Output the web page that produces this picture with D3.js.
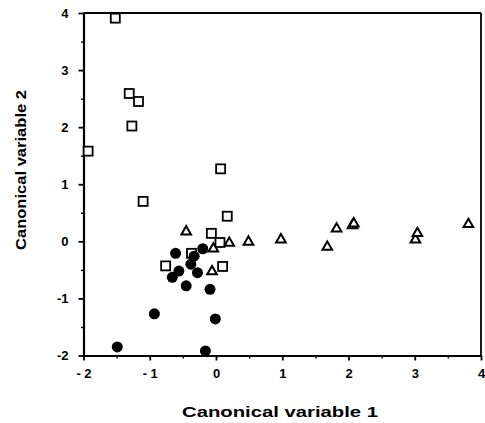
<!DOCTYPE html>
<html>
<head>
<meta charset="utf-8">
<script src="https://cdn.jsdelivr.net/npm/d3@7"></script>
<style>
  html, body { margin: 0; padding: 0; background: #fff; }
  svg { display: block; }
  text { font-family: "Liberation Sans", Arial, Helvetica, sans-serif; font-weight: bold; fill: #000; }
  .tick text { font-size: 13px; font-weight: bold; font-family: "Liberation Sans", Arial, sans-serif; }
</style>
</head>
<body>
<svg id="chart" width="485" height="423"></svg>
<script>
// ---- data ----
const squaresX = [-1.52, -1.31, -1.17, -1.27, -1.93, 0.07, -1.10, 0.17, -0.07, 0.06, -0.76, 0.10, -0.37];
const squaresY = [3.91, 2.59, 2.45, 2.02, 1.58, 1.27, 0.70, 0.44, 0.14, -0.02, -0.43, -0.44, -0.21];

const trianglesX = [-0.45, -0.04, 0.20, -0.06, 0.49, 0.98, 1.68, 1.82, 2.06, 2.08, 3.01, 3.04, 3.81];
const trianglesY = [0.17, -0.13, -0.03, -0.53, -0.01, 0.03, -0.10, 0.22, 0.28, 0.31, 0.03, 0.14, 0.30];

const circlesX = [-0.61, -0.20, -0.33, -0.38, -0.56, -0.66, -0.28, -0.45, -0.09, -0.01, -0.93, -1.49, -0.16];
const circlesY = [-0.21, -0.13, -0.26, -0.40, -0.52, -0.63, -0.55, -0.78, -0.84, -1.36, -1.27, -1.85, -1.92];

const xTickValues = [-2, -1, 0, 1, 2, 3, 4];
const xTickLabels = ["- 2", "- 1", "0", "1", "2", "3", "4"];
const yTickValues = [-2, -1, 0, 1, 2, 3, 4];
const yTickLabels = ["-2", "-1", "0", "1", "2", "3", "4"];
const xMinorTicks = [-1.5, -0.5, 0.5, 1.5, 2.5, 3.5];
const yMinorTicks = [-1.5, -0.5, 0.5, 1.5, 2.5, 3.5];

const xTitle = "Canonical variable 1";
const yTitle = "Canonical variable 2";

// ---- layout ----
const svg = d3.select("#chart");
const plotLeft = 83.5, plotRight = 481, plotTop = 13, plotBottom = 355.5;

const x = d3.scaleLinear().domain([-2, 4]).range([plotLeft, plotRight]);
const y = d3.scaleLinear().domain([-2, 4]).range([plotBottom, plotTop]);

// frame (top and right)
svg.append("line").attr("x1", plotLeft).attr("x2", plotRight).attr("y1", plotTop).attr("y2", plotTop)
  .attr("stroke", "#000").attr("stroke-width", 1.8);
svg.append("line").attr("x1", plotRight).attr("x2", plotRight).attr("y1", plotTop).attr("y2", plotBottom)
  .attr("stroke", "#000").attr("stroke-width", 1.8);

// x axis
const xAxis = svg.append("g").attr("transform", `translate(0,${plotBottom})`)
  .call(d3.axisBottom(x).tickValues(xTickValues).tickSize(5).tickSizeOuter(0)
    .tickFormat((d, i) => xTickLabels[i]));
xAxis.select(".domain").attr("stroke-width", 2.2);
xAxis.selectAll(".tick line").attr("stroke-width", 1.8);
xAxis.selectAll(".tick text").attr("y", 13).attr("dy", "0.75em");

const xMinor = svg.append("g").attr("transform", `translate(0,${plotBottom})`)
  .call(d3.axisBottom(x).tickValues(xMinorTicks).tickSize(3).tickSizeOuter(0).tickFormat(""));
xMinor.select(".domain").remove();
xMinor.selectAll(".tick line").attr("stroke-width", 1.4);

// y axis
const yAxis = svg.append("g").attr("transform", `translate(${plotLeft},0)`)
  .call(d3.axisLeft(y).tickValues(yTickValues).tickSize(5).tickSizeOuter(0)
    .tickFormat((d, i) => yTickLabels[i]));
yAxis.select(".domain").attr("stroke-width", 2.2);
yAxis.selectAll(".tick line").attr("stroke-width", 1.8);
yAxis.selectAll(".tick text").attr("x", -15);

const yMinor = svg.append("g").attr("transform", `translate(${plotLeft},0)`)
  .call(d3.axisLeft(y).tickValues(yMinorTicks).tickSize(2.5).tickSizeOuter(0).tickFormat(""));
yMinor.select(".domain").remove();
yMinor.selectAll(".tick line").attr("stroke-width", 1.4);

// axis titles
svg.append("text").attr("x", 280).attr("y", 417).attr("text-anchor", "middle")
  .attr("font-size", 15).attr("textLength", 196).attr("lengthAdjust", "spacingAndGlyphs")
  .text(xTitle);
svg.append("text").attr("transform", "translate(26,170) rotate(-90)").attr("text-anchor", "middle")
  .attr("font-size", 15).attr("textLength", 160).attr("lengthAdjust", "spacingAndGlyphs")
  .text(yTitle);

// ---- marks ----
const sq = 9;
svg.append("g").selectAll("rect").data(squaresX).join("rect")
  .attr("x", (d) => x(d) - sq / 2)
  .attr("y", (d, i) => y(squaresY[i]) - sq / 2)
  .attr("width", sq).attr("height", sq)
  .attr("fill", "#fff").attr("stroke", "#000").attr("stroke-width", 1.8);

const triSym = d3.symbol().type(d3.symbolTriangle).size(40);
svg.append("g").selectAll("path").data(trianglesX).join("path")
  .attr("d", triSym)
  .attr("transform", (d, i) => `translate(${x(d)},${y(trianglesY[i])})`)
  .attr("fill", "#fff").attr("stroke", "#000").attr("stroke-width", 2);

svg.append("g").selectAll("circle").data(circlesX).join("circle")
  .attr("cx", (d) => x(d))
  .attr("cy", (d, i) => y(circlesY[i]))
  .attr("r", 5.5)
  .attr("fill", "#000");
</script>
</body>
</html>
